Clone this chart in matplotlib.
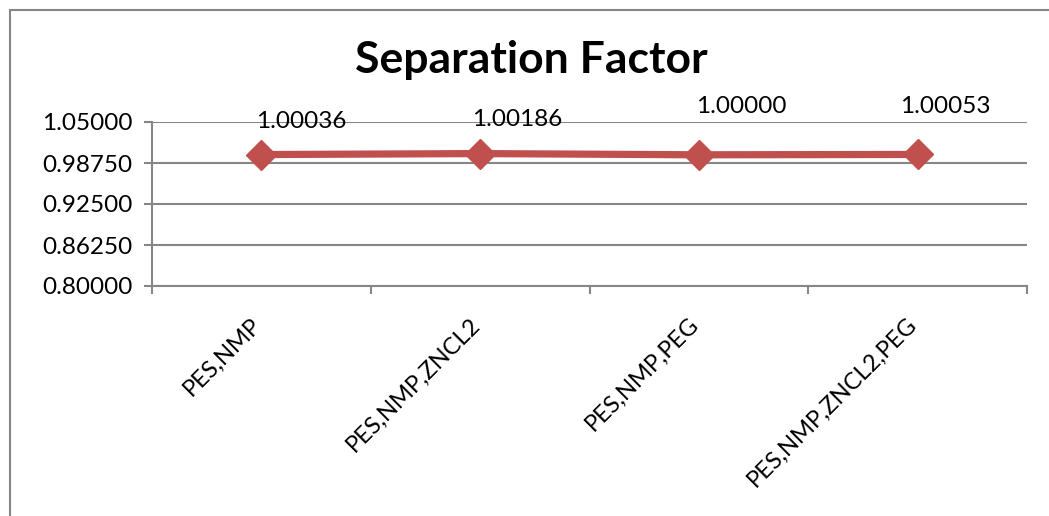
import matplotlib.pyplot as plt
from matplotlib.patches import Rectangle
from matplotlib.transforms import ScaledTranslation
import numpy as np

categories = ['PES,NMP', 'PES,NMP,ZNCL2', 'PES,NMP,PEG', 'PES,NMP,ZNCL2,PEG']
values = [1.00036, 1.00186, 1.00000, 1.00053]
yticks = [0.8, 0.8625, 0.925, 0.9875, 1.05]

# where Excel put each data label, in points relative to its marker
label_offsets = [(-4, 16), (-6, 17), (-2, 27), (-13, 27)]

plt.rcParams['font.family'] = ['Lato', 'DejaVu Sans']

fig = plt.figure(figsize=(10.49, 5.16), dpi=100)
ax = fig.add_axes([152 / 1049, 1 - 286 / 516, 875 / 1049, 164 / 516])

x = np.arange(len(categories))
ax.plot(x, values, color='#C0504D', lw=5.2, marker='D', markersize=15,
        markeredgecolor='#C0504D', markerfacecolor='#C0504D', zorder=3,
        solid_capstyle='butt')

for xi, v, off in zip(x, values, label_offsets):
    ax.annotate(f'{v:.5f}', (xi, v), xytext=off, textcoords='offset points',
                ha='left', va='bottom', fontsize=17.5, color='black')

ax.set_xlim(-0.5, len(categories) - 0.5)
ax.set_ylim(0.8, 1.05)
ax.set_yticks(yticks)
ax.set_yticklabels([f'{t:.5f}' for t in yticks], fontsize=17.5)
ax.yaxis.grid(True, color='#868686', lw=1.5)
ax.set_axisbelow(True)

ax.set_xticks(np.arange(len(categories) + 1) - 0.5)
ax.set_xticklabels([])
ax.set_xticks(x, minor=True)
ax.set_xticklabels(categories, minor=True, rotation=45, ha='right', va='top',
                   rotation_mode='anchor', fontsize=17)
ax.tick_params(axis='x', which='minor', length=0, pad=20)
ax.tick_params(axis='x', which='major', length=6, width=1.5, color='#868686')
ax.tick_params(axis='y', length=6, width=1.5, color='#868686', pad=8)
shift = ScaledTranslation(-8 / 72, 0, fig.dpi_scale_trans)
for lab in ax.get_xticklabels(minor=True):
    lab.set_transform(lab.get_transform() + shift)

for s in ['top', 'right']:
    ax.spines[s].set_visible(False)
for s in ['left', 'bottom']:
    ax.spines[s].set_color('#868686')
    ax.spines[s].set_linewidth(1.5)

fig.text(531 / 1049, 1 - 60 / 516, 'Separation Factor', ha='center', va='center',
         fontsize=32, fontweight='bold')

fig.patches.append(Rectangle((10 / 1049, -0.1), 1.2, 1 - 10 / 516 + 0.1,
                             transform=fig.transFigure, fill=False,
                             edgecolor='#868686', lw=1.5))

fig.savefig('out.png', dpi=100)
